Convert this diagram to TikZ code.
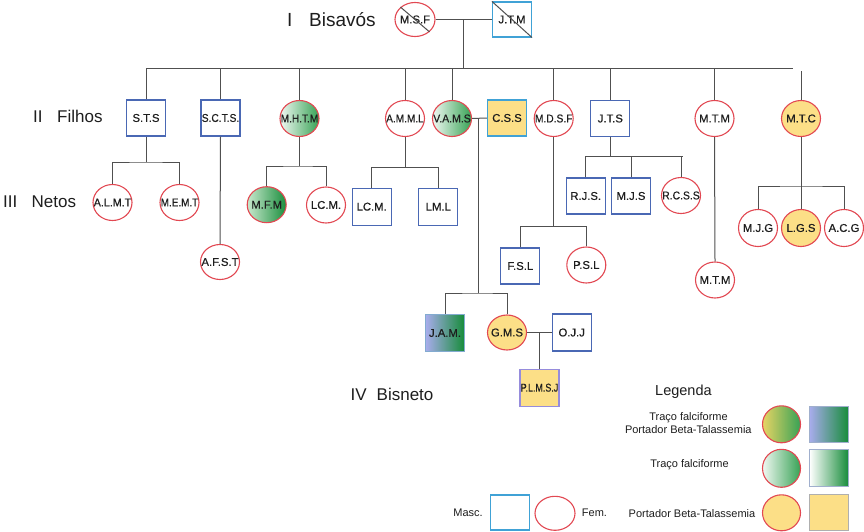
\documentclass[tikz,border=0pt]{standalone}
\usepackage{fontspec}
\setmainfont{Liberation Sans}
\newfontfamily\labfam[FakeBold=0.5]{Liberation Sans}
\usetikzlibrary{shapes.geometric,calc}
\definecolor{femred}{RGB}{226,72,82}
\definecolor{mascblue}{RGB}{74,104,180}
\definecolor{lightblue}{RGB}{64,162,214}
\definecolor{yfill}{RGB}{252,223,135}
\definecolor{gdark}{RGB}{22,140,58}
\definecolor{gmid}{RGB}{55,162,85}
\definecolor{glight}{RGB}{240,248,242}
\definecolor{gpale}{RGB}{200,232,205}
\definecolor{lav}{RGB}{168,172,236}
\definecolor{ygr}{RGB}{232,212,100}
\definecolor{linegray}{RGB}{80,80,80}
\definecolor{labtext}{RGB}{30,30,30}
\definecolor{purpleb}{RGB}{150,140,220}
\definecolor{legborder}{RGB}{160,175,205}
\definecolor{leggray}{RGB}{175,175,175}
\newsavebox\labbox
\newcommand\labfont{\labfam\fontsize{11.3}{13}\selectfont}
\newcommand\nl[1]{\makebox[0pt]{\sbox\labbox{#1}\ifdim\wd\labbox>37.5pt\relax\pgfmathsetmacro\labsf{37.5pt/\wd\labbox}\scalebox{\labsf}[1]{\usebox\labbox}\else\usebox\labbox\fi}}
\begin{document}
\begin{tikzpicture}[x=1pt,y=-1pt,
  fem/.style={ellipse, draw=femred, line width=1.1pt, minimum width=39pt, minimum height=36pt, inner sep=0pt, font=\labfont, text=labtext},
  masc/.style={rectangle, draw=mascblue, line width=1.2pt, minimum width=39pt, minimum height=36pt, inner sep=0pt, font=\labfont, text=labtext},
  link/.style={draw=linegray, line width=1pt},
  carrier/.style={fill=yfill},
  trait/.style={left color=glight, right color=gmid},
  traitb/.style={left color=gpale, right color=gdark!90!gmid},
  both/.style={left color=ygr, right color=gmid},
  bothm/.style={left color=lav, right color=gdark},
  rowlab/.style={font=\fontsize{17}{20}\selectfont, text=labtext, anchor=base west, inner sep=0pt},
  legtext/.style={font=\fontsize{11}{13}\selectfont, anchor=base, inner sep=0pt, text=labtext}
]
\fill[white] (0,0) rectangle (864,532);
\useasboundingbox (0,0) rectangle (864,532);

% generation labels
\node[rowlab, font=\fontsize{19}{22}\selectfont] (lI) at (287,26.5) {I};
\node[rowlab, font=\fontsize{19}{22}\selectfont] (lIb) at (309,26.5) {Bisavós};
\node[rowlab] (lII) at (33,122.3) {II};
\node[rowlab] (lIIb) at (57,122.3) {Filhos};
\node[rowlab] (lIII) at (3,207.5) {III};
\node[rowlab] (lIIIb) at (31.5,207.5) {Netos};
\node[rowlab] (lIV) at (350.5,400.7) {IV};
\node[rowlab] (lIVb) at (376.5,400.7) {Bisneto};

% generation I
\node[fem, minimum height=34pt, minimum width=40pt] (msf) at (415,19.5) {\nl{M.S.F}};
\node[masc, draw=lightblue, minimum height=35pt] (jtm) at (512,19.5) {\nl{J.T.M}};
\draw[link] (msf.north west) -- (msf.south east);
\draw[link] (jtm.north west) -- (jtm.south east);
\draw[link] (msf.east) -- (jtm.west);
\coordinate (m0) at ($(msf.east)!0.5!(jtm.west)$);
\coordinate (r2L) at (146,69);
\coordinate (r2R) at (793,69);
\coordinate (r2gap) at (801,71);
\draw[link] (m0) -- (m0 |- r2L);
\draw[link] (r2L) -- (r2R);

% generation II
\node[masc] (sts) at (146,118) {\nl{S.T.S}};
\node[masc] (scts) at (220.5,118) {\nl{S.C.T.S.}};
\node[fem, trait] (mhtm) at (299.5,118.5) {\nl{M.H.T.M}};
\node[fem] (amml) at (405,118.5) {\nl{A.M.M.L}};
\node[fem, trait] (vams) at (452,118.5) {\nl{V.A.M.S}};
\node[masc, carrier, draw=lightblue] (css) at (507,118) {\nl{C.S.S}};
\node[fem] (mdsf) at (553.7,118.5) {\nl{M.D.S.F}};
\node[masc] (jts) at (610.3,118.5) {\nl{J.T.S}};
\node[fem] (mtm) at (714.5,118.5) {\nl{M.T.M}};
\node[fem, carrier] (mtc) at (801,118.5) {\nl{M.T.C}};
\foreach \n in {sts,scts,mhtm,amml,vams,mdsf,jts,mtm}
  \draw[link] (\n.north) -- (\n.north |- r2L);
\draw[link] (mtc.north) -- (mtc.north |- r2gap);
\draw[link] (vams.east) -- (css.west);
\coordinate (vc) at (478.5,118.5);

% generation III
\node[fem] (almt) at (112.5,202.5) {\nl{A.L.M.T}};
\node[fem] (memt) at (179.5,202.5) {\nl{M.E.M.T}};
\coordinate (b1) at (146,162);
\draw[link] (sts.south) -- (b1);
\draw[link] (almt.north) |- (b1) -| (memt.north);

\node[fem, minimum height=35pt] (afst) at (220,262) {\nl{A.F.S.T}};
\draw[link] (scts.south) -- (afst.north);

\node[fem, traitb] (mfm) at (266.7,204.7) {\nl{M.F.M}};
\node[fem] (lcm1) at (326,205) {\nl{LC.M.}};
\coordinate (b3) at (299.5,166);
\draw[link] (mhtm.south) -- (b3);
\draw[link] (mfm.north) |- (b3) -| (lcm1.north);

\node[masc, minimum height=37pt] (lcm2) at (371.7,206.7) {\nl{LC.M.}};
\node[masc, minimum height=37pt] (lml) at (438.3,206.7) {\nl{LM.L}};
\coordinate (b4) at (405,167.7);
\draw[link] (amml.south) -- (b4);
\draw[link] (lcm2.north) |- (b4) -| (lml.north);

\node[masc] (rjs) at (585.7,196) {\nl{R.J.S.}};
\node[masc] (mjs) at (631,196) {\nl{M.J.S}};
\node[fem] (rcss) at (681,195.5) {\nl{R.C.S.S}};
\coordinate (b7) at (610.3,156.7);
\coordinate (b7e) at (683.3,156.7);
\draw[link] (jts.south) -- (b7);
\draw[link] (rjs.north) |- (b7e);
\draw[link] (mjs.north) -- (mjs.north |- b7);
\draw[link] (rcss.north) -- (rcss.north |- b7);

\node[masc] (fsl) at (520.3,266) {\nl{F.S.L}};
\node[fem] (psl) at (586.3,265) {\nl{P.S.L}};
\coordinate (b6) at (553.7,226.3);
\draw[link] (mdsf.south) -- (b6);
\draw[link] (fsl.north) |- (b6) -| (psl.north);

\node[fem] (mtm2) at (715,280) {\nl{M.T.M}};
\draw[link] (mtm.south) -- (mtm2.north);

\node[fem, minimum height=37pt] (mjg) at (758,228) {\nl{M.J.G}};
\node[fem, carrier, minimum height=37pt] (lgs) at (801,228) {\nl{L.G.S}};
\node[fem, minimum height=37pt] (acg) at (844,228) {\nl{A.C.G}};
\coordinate (b8) at (801,186);
\draw[link] (mtc.south) -- (lgs.north);
\draw[link] (mjg.north) |- (b8) -| (acg.north);

% generation IV
\node[masc, bothm, draw=legborder!70!lightblue, minimum height=37pt] (jam) at (445,333) {\nl{J.A.M.}};
\node[fem, carrier, minimum height=35pt] (gms) at (507,332.5) {\nl{G.M.S}};
\node[masc, minimum height=37pt] (ojj) at (571.7,332.5) {\nl{O.J.J}};
\coordinate (b5) at (478.5,293);
\draw[link] (vc) -- (b5);
\draw[link] (jam.north) |- (b5) -| (gms.north);
\draw[link] (gms.east) -- (ojj.west);
\node[masc, carrier, draw=purpleb, minimum height=37pt] (plmsj) at (539.5,387.7) {\nl{P.L.M.S.J}};
\draw[link] (plmsj.north) -- (plmsj.north |- gms.east);

% legend
\node[anchor=base west, inner sep=0pt, font=\fontsize{14.5}{17}\selectfont, text=labtext] (legt) at (655,395) {Legenda};
\node[legtext] (leg1a) at (688.5,420) {Traço falciforme};
\node[legtext] (leg1b) at (688.3,433.3) {Portador Beta-Talassemia};
\node[fem, both, minimum width=38pt, minimum height=37pt] (leg1c) at (781.5,424.3) {};
\node[masc, bothm, draw=legborder, line width=0.8pt, minimum height=36pt] (leg1s) at (829,424.7) {};
\node[legtext] (leg2a) at (689.5,467.3) {Traço falciforme};
\node[fem, trait, minimum width=38pt, minimum height=38pt] (leg2c) at (781.5,468.3) {};
\node[masc, left color=white, right color=gdark, draw=legborder, line width=0.8pt, minimum height=37pt] (leg2s) at (829,468.3) {};
\node[legtext] (leg3a) at (692,517.3) {Portador Beta-Talassemia};
\node[fem, carrier, minimum width=38pt, minimum height=36pt] (leg3c) at (781.5,512.8) {};
\node[masc, carrier, draw=leggray, line width=0.8pt, minimum height=36pt] (leg3s) at (829,512.8) {};

\node[legtext] (masct) at (468,516.7) {Masc.};
\node[masc, draw=lightblue, minimum height=35pt] (mascs) at (509.7,512.5) {};
\node[fem, minimum width=40pt, minimum height=34pt] (femc) at (555,513.3) {};
\node[legtext] (femt) at (594.5,516.7) {Fem.};
\end{tikzpicture}
\end{document}
